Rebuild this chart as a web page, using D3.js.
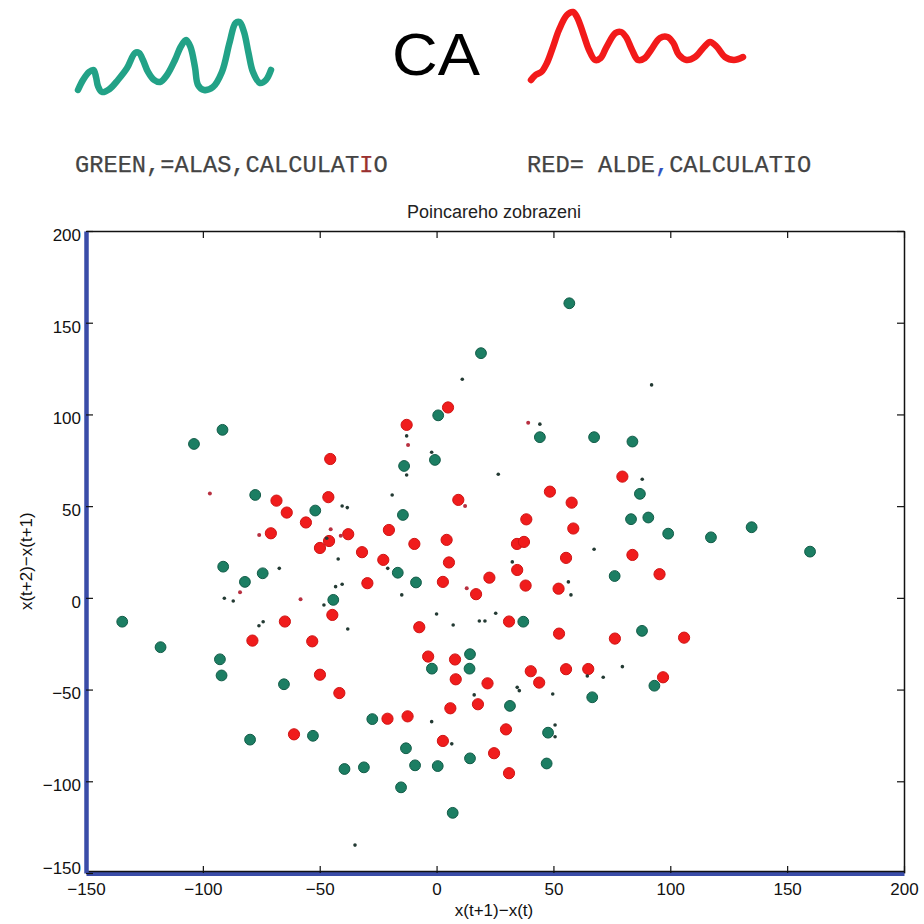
<!DOCTYPE html>
<html>
<head>
<meta charset="utf-8">
<script src="https://cdn.jsdelivr.net/npm/d3@7"></script>
<style>
  body { margin: 0; background: #fff; }
</style>
</head>
<body>
<div id="chart"></div>
<script>
// big clusters, green series  [x(t+1)-x(t), x(t+2)-x(t+1)]
var greenPoints = [
    [-103.8, 83.9], [-91.6, 91.6], [-13.9, 71.9], [-0.7, 75.2], [0.7, 99.5],
    [-77.6, 56.1], [-51.9, 47.6], [-14.4, 45.2], [-16.6, 13.7], [-8.8, 8.4],
    [-91.3, 17.0], [-82.0, 8.7], [-74.4, 13.4], [-44.2, -1.1], [19.0, 133.4],
    [56.8, 160.6], [44.2, 87.6], [67.4, 87.6], [83.8, 85.2], [87.0, 56.7],
    [83.2, 42.9], [90.6, 43.8], [99.1, 35.0], [117.4, 33.0], [134.8, 38.5],
    [159.8, 25.2], [76.2, 11.9], [-134.5, -13.0], [-118.1, -26.9], [-92.7, -33.5],
    [-92.0, -42.3], [-65.3, -47.1], [-27.5, -66.1], [-52.9, -75.2], [-79.8, -77.3],
    [-13.1, -82.0], [-39.4, -93.3], [-31.1, -92.4], [-9.2, -91.3], [0.5, -91.7],
    [-15.2, -103.3], [6.9, -117.2], [-2.0, -38.6], [14.3, -30.7], [14.1, -38.6],
    [37.1, -13.0], [87.9, -18.0], [31.4, -58.9], [66.6, -54.2], [93.2, -47.9],
    [47.7, -73.5], [14.3, -87.5], [47.1, -90.3]
];

// big clusters, red series
var redPoints = [
    [-45.5, 75.7], [-12.8, 94.3], [4.9, 103.8], [-68.5, 53.0], [-64.1, 46.5],
    [-55.9, 41.1], [-46.3, 54.9], [-70.9, 35.2], [-49.9, 27.2], [-46.0, 31.0],
    [-37.8, 34.7], [-31.9, 24.9], [-20.4, 37.0], [-9.5, 29.4], [4.3, 31.6],
    [-22.8, 20.7], [-29.6, 8.0], [2.7, 8.7], [5.3, 19.3], [9.3, 53.4],
    [48.5, 57.9], [57.8, 51.9], [38.4, 42.8], [58.5, 37.8], [34.4, 29.4],
    [37.4, 30.5], [55.4, 21.8], [83.8, 23.4], [79.5, 66.1], [34.5, 15.2],
    [22.6, 11.0], [16.9, 2.0], [38.1, 6.7], [52.2, 5.0], [95.4, 12.9],
    [-64.9, -12.9], [-44.6, -9.3], [-78.8, -23.3], [-53.2, -23.7], [-7.4, -16.0],
    [-3.6, -32.0], [7.9, -33.6], [-49.9, -41.9], [-41.6, -51.9], [31.0, -12.9],
    [52.4, -19.5], [76.3, -22.2], [105.9, -21.7], [8.2, -44.4], [21.8, -46.6],
    [40.3, -40.0], [43.9, -46.2], [55.4, -38.9], [64.9, -38.8], [96.9, -43.3],
    [17.7, -58.0], [5.9, -60.2], [-21.0, -65.9], [-12.4, -64.6], [-61.0, -74.4],
    [2.7, -78.0], [29.7, -71.7], [24.6, -84.7], [31.0, -95.6]
];

// single stray points, red
var redSingles = [
    [-97.0, 56.9], [-75.9, 34.3], [-41.0, 33.8], [-12.2, 83.4], [-45.3, 37.4],
    [39.2, 95.5], [12.2, 50.1], [-58.2, -0.8], [-84.1, 3.1], [12.9, 5.2]
];

// single stray points, dark
var darkSingles = [
    [-12.8, 88.3], [-12.8, 67.0], [-2.1, 79.4], [-40.4, 50.1], [-38.2, 49.2],
    [-47.0, 32.5], [-42.1, 21.2], [-19.0, 56.1], [-20.9, 16.1], [-14.9, 1.6],
    [-67.3, 16.1], [-90.8, -0.2], [-87.0, -1.7], [-43.2, 6.1], [-40.4, 7.4],
    [-48.2, -3.9], [11.0, 119.2], [92.0, 116.1], [44.2, 94.7], [26.4, 67.4],
    [88.0, 64.7], [67.4, 26.5], [32.4, 19.6], [56.4, 8.7], [57.5, 1.6],
    [0.0, -8.8], [-76.0, -15.2], [-74.2, -13.0], [-38.0, -17.0], [-2.1, -67.5],
    [7.1, -14.8], [18.3, -12.6], [20.7, -12.6], [25.3, -8.4], [64.5, -42.6],
    [79.5, -37.5], [71.3, -43.3], [49.7, -52.4], [16.1, -52.9], [34.5, -48.8],
    [35.4, -50.6], [50.7, -69.3], [50.7, -75.7], [6.5, -79.6], [-34.9, -134.8]
];

var xTicks = [-150, -100, -50, 0, 50, 100, 150, 200];
var yTicks = [-150, -100, -50, 0, 50, 100, 150, 200];

// hand drawn signal traces in the header: [progress, height] in 0..1
var greenWave = [
    [0.005, 0.028], [0.031, 0.167], [0.062, 0.278], [0.085, 0.306], [0.098, 0.208],
    [0.108, 0.083], [0.129, 0.0], [0.168, 0.042], [0.211, 0.167], [0.258, 0.333],
    [0.299, 0.542], [0.320, 0.542], [0.340, 0.444], [0.366, 0.278], [0.397, 0.167],
    [0.428, 0.139], [0.464, 0.236], [0.505, 0.444], [0.534, 0.625], [0.562, 0.722],
    [0.585, 0.625], [0.608, 0.347], [0.624, 0.097], [0.655, 0.028], [0.701, 0.069],
    [0.747, 0.278], [0.786, 0.681], [0.817, 0.958], [0.838, 0.972], [0.861, 0.833],
    [0.884, 0.542], [0.907, 0.278], [0.943, 0.125], [0.974, 0.167], [1.0, 0.306]
];
var redWave = [
    [0.014, 0.0], [0.035, 0.074], [0.062, 0.118], [0.088, 0.25], [0.116, 0.485],
    [0.144, 0.735], [0.181, 0.956], [0.209, 1.0], [0.228, 0.926], [0.256, 0.691],
    [0.284, 0.441], [0.312, 0.294], [0.338, 0.324], [0.365, 0.485], [0.407, 0.691],
    [0.433, 0.706], [0.456, 0.632], [0.484, 0.441], [0.512, 0.294], [0.544, 0.324],
    [0.572, 0.441], [0.614, 0.618], [0.649, 0.632], [0.676, 0.544], [0.702, 0.368],
    [0.737, 0.294], [0.777, 0.338], [0.819, 0.485], [0.847, 0.559], [0.879, 0.485],
    [0.916, 0.338], [0.958, 0.294], [1.0, 0.338]
];

function poincare(target) {
    var width = 924, height = 924;
    var left = 86, right = 904, top = 231, bottom = 873;

    var svg = d3.select(target).append('svg')
        .attr('width', width).attr('height', height)
        .style('font-family', '"Liberation Sans", Arial, sans-serif');

    svg.append('rect').attr('width', width).attr('height', height).attr('fill', '#fff');

    // header ------------------------------------------------------------
    function drawWave(data, x0, x1, yLow, yHigh, color) {
        var wx = d3.scaleLinear().domain([0, 1]).range([x0, x1]);
        var wy = d3.scaleLinear().domain([0, 1]).range([yLow, yHigh]);
        svg.append('path')
           .attr('d', d3.line().curve(d3.curveCatmullRom)
                 .x(function(d) { return wx(d[0]); })
                 .y(function(d) { return wy(d[1]); })(data))
           .attr('fill', 'none')
           .attr('stroke', color)
           .attr('stroke-width', 6.5)
           .attr('stroke-linecap', 'round')
           .attr('stroke-linejoin', 'round');
    }
    drawWave(greenWave, 77, 271, 92, 20, '#22a287');
    drawWave(redWave, 528, 743, 80, 12, '#f21a1a');

    svg.append('text').attr('x', 392).attr('y', 75)
       .attr('font-size', 60).attr('fill', '#000')
       .attr('textLength', 88).attr('lengthAdjust', 'spacingAndGlyphs')
       .text('CA');

    var mono = '"Liberation Mono", "Courier New", monospace';
    var g1 = svg.append('text').attr('x', 75).attr('y', 172)
       .attr('font-family', mono).attr('font-size', 23.7)
       .attr('fill', '#444').attr('stroke', '#444').attr('stroke-width', 0.25);
    g1.append('tspan').text('GREEN,=ALAS,CALCULAT');
    g1.append('tspan').attr('fill', '#9a3030').attr('stroke', '#9a3030').text('I');
    g1.append('tspan').text('O');

    var r1 = svg.append('text').attr('x', 527).attr('y', 172)
       .attr('font-family', mono).attr('font-size', 23.7)
       .attr('fill', '#444').attr('stroke', '#444').attr('stroke-width', 0.25)
       .attr('xml:space', 'preserve');
    r1.append('tspan').text('RED= ALDE');
    r1.append('tspan').attr('fill', '#3050c0').attr('stroke', '#3050c0').text(',');
    r1.append('tspan').text('CALCULATIO');

    svg.append('text').attr('x', 494).attr('y', 218)
       .attr('text-anchor', 'middle').attr('font-size', 18).attr('fill', '#222')
       .text('Poincareho zobrazeni');

    // plot -------------------------------------------------------------
    var x = d3.scaleLinear().domain([-150, 200]).range([left, right]);
    var y = d3.scaleLinear().domain([-150, 200]).range([bottom, top]);

    // box with inward ticks, MATLAB style
    svg.append('g').attr('transform', 'translate(0,' + top + ')')
       .call(d3.axisTop(x).tickValues(xTicks).tickSize(-7).tickSizeOuter(0).tickFormat(''))
       .call(function(g) { g.select('.domain').attr('stroke', '#111').attr('stroke-width', 1.5); });
    svg.append('g').attr('transform', 'translate(' + right + ',0)')
       .call(d3.axisRight(y).tickValues(yTicks).tickSize(-7).tickSizeOuter(0).tickFormat(''))
       .call(function(g) { g.select('.domain').attr('stroke', '#111').attr('stroke-width', 1.5); });

    var xAxis = svg.append('g').attr('transform', 'translate(0,' + bottom + ')')
       .call(d3.axisBottom(x).tickValues(xTicks).tickSize(-7).tickSizeOuter(0).tickPadding(16));
    xAxis.select('.domain').attr('stroke', '#3a4ca8').attr('stroke-width', 5);
    xAxis.append('line').attr('x1', left).attr('x2', right).attr('y1', -1.5).attr('y2', -1.5)
         .attr('stroke', '#111').attr('stroke-width', 1.5);

    var yAxis = svg.append('g').attr('transform', 'translate(' + left + ',0)')
       .call(d3.axisLeft(y).tickValues(yTicks).tickSize(-7).tickSizeOuter(0).tickPadding(5));
    yAxis.select('.domain').attr('stroke', '#3a4ca8').attr('stroke-width', 4.5);

    svg.selectAll('.tick line').attr('stroke', '#111').attr('stroke-width', 1.2);
    svg.selectAll('.tick text')
       .attr('font-family', '"Liberation Sans", Arial, sans-serif')
       .attr('font-size', 17).attr('fill', '#111');
    xAxis.selectAll('.tick text').attr('dy', '0.35em');
    yAxis.selectAll('.tick text')
         .attr('dy', function(d) { return d === yTicks[0] ? '0.05em' : '0.55em'; });

    svg.append('text').attr('x', 494).attr('y', 916)
       .attr('text-anchor', 'middle').attr('font-size', 17).attr('fill', '#111')
       .text('x(t+1)\u2212x(t)');
    svg.append('text')
       .attr('transform', 'translate(32,' + y(20) + ') rotate(-90)')
       .attr('text-anchor', 'middle').attr('font-size', 17).attr('fill', '#111')
       .text('x(t+2)\u2212x(t+1)');

    var marks = svg.append('g');
    marks.selectAll('circle.green').data(greenPoints).enter()
         .append('circle').attr('class', 'green')
         .attr('cx', function(d) { return x(d[0]); })
         .attr('cy', function(d) { return y(d[1]); })
         .attr('r', 5.4)
         .attr('fill', '#1c7e63').attr('stroke', '#125c48').attr('stroke-width', 1);
    marks.selectAll('circle.red').data(redPoints).enter()
         .append('circle').attr('class', 'red')
         .attr('cx', function(d) { return x(d[0]); })
         .attr('cy', function(d) { return y(d[1]); })
         .attr('r', 5.6)
         .attr('fill', '#f01c1c').attr('stroke', '#d01414').attr('stroke-width', 1);
    marks.selectAll('circle.reddot').data(redSingles).enter()
         .append('circle').attr('class', 'reddot')
         .attr('cx', function(d) { return x(d[0]); })
         .attr('cy', function(d) { return y(d[1]); })
         .attr('r', 2).attr('fill', '#b83040');
    marks.selectAll('circle.dark').data(darkSingles).enter()
         .append('circle').attr('class', 'dark')
         .attr('cx', function(d) { return x(d[0]); })
         .attr('cy', function(d) { return y(d[1]); })
         .attr('r', 1.8).attr('fill', '#233a33');
}

poincare('#chart');
</script>
</body>
</html>
